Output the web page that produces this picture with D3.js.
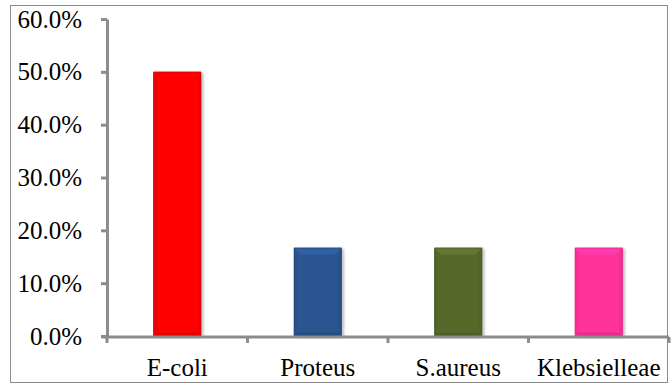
<!DOCTYPE html>
<html>
<head>
<meta charset="utf-8">
<script src="https://cdn.jsdelivr.net/npm/d3@7"></script>
</head>
<body style="margin:0;background:#fff">
<svg id="chart" width="671" height="386"></svg>
<script>
// Isolate shares by organism
const categories = ["E-coli", "Proteus", "S.aureus", "Klebsielleae"];
const values = [0.50, 0.167, 0.167, 0.167];
const barColors = ["#ff0000", "#2b5591", "#56692c", "#ff3399"];
const yTicks = [0, 0.1, 0.2, 0.3, 0.4, 0.5, 0.6];

const FONT = "Liberation Serif";
const FONT_SIZE = 25;
const AXIS_GRAY = "#8c8c8c";

const svg = d3.select("#chart");

// outer frame
svg.append("rect")
  .attr("x", 10.5).attr("y", 5.5)
  .attr("width", 657).attr("height", 377)
  .attr("fill", "#fff").attr("stroke", AXIS_GRAY).attr("stroke-width", 1);

const plot = { left: 107, right: 669, top: 19, bottom: 336 };

const x = d3.scaleBand()
  .domain(categories)
  .range([plot.left, plot.right])
  .paddingInner(0.66).paddingOuter(0.33);

const y = d3.scaleLinear().domain([0, 0.6]).range([plot.bottom, plot.top]);

const defs = svg.append("defs");
const shadow = defs.append("filter").attr("id", "shadow")
  .attr("x", "-20%").attr("y", "-10%").attr("width", "150%").attr("height", "130%");
shadow.append("feGaussianBlur").attr("in", "SourceAlpha").attr("stdDeviation", 1.5);
shadow.append("feOffset").attr("dx", 2).attr("dy", 1).attr("result", "b");
shadow.append("feComponentTransfer").append("feFuncA").attr("type", "linear").attr("slope", 0.3);
const merge = shadow.append("feMerge");
merge.append("feMergeNode");
merge.append("feMergeNode").attr("in", "SourceGraphic");

// bevelled bars
const bevel = 7;
svg.append("g").selectAll("g").data(categories).join("g").each(function (c, i) {
  const g = d3.select(this);
  const x0 = x(c), w = x.bandwidth();
  const y0 = y(values[i]), y1 = y(0), h = y1 - y0;
  const col = d3.color(barColors[i]);
  const b = Math.min(bevel, h / 2);
  g.append("rect").attr("x", x0).attr("y", y0).attr("width", w).attr("height", h)
    .attr("fill", col).attr("filter", "url(#shadow)");
  // top face (lighter)
  g.append("polygon")
    .attr("points", [[x0, y0], [x0 + w, y0], [x0 + w - b, y0 + b], [x0 + b, y0 + b]].join(" "))
    .attr("fill", col.brighter(0.35));
  // side faces (faint)
  g.append("polygon")
    .attr("points", [[x0, y0], [x0 + b * 0.5, y0 + b], [x0 + b * 0.5, y1 - b * 0.5], [x0, y1]].join(" "))
    .attr("fill", col.darker(0.12));
  g.append("polygon")
    .attr("points", [[x0 + w, y0], [x0 + w - b * 0.5, y0 + b], [x0 + w - b * 0.5, y1 - b * 0.5], [x0 + w, y1]].join(" "))
    .attr("fill", col.darker(0.15));
  // bottom face
  g.append("polygon")
    .attr("points", [[x0, y1], [x0 + b * 0.5, y1 - b * 0.5], [x0 + w - b * 0.5, y1 - b * 0.5], [x0 + w, y1]].join(" "))
    .attr("fill", col.darker(0.3));
  g.append("rect").attr("x", x0 + 0.5).attr("y", y0 + 0.5).attr("width", w - 1).attr("height", h - 1)
    .attr("fill", "none").attr("stroke", col.darker(0.6)).attr("stroke-opacity", 0.5).attr("stroke-width", 1);
});

// y axis
const yAxis = svg.append("g")
  .attr("transform", `translate(${plot.left},0)`)
  .call(d3.axisLeft(y).tickValues(yTicks).tickFormat(d3.format(".1%"))
    .tickSize(6).tickPadding(19).tickSizeOuter(0));
yAxis.attr("font-family", FONT).attr("font-size", FONT_SIZE);
yAxis.select(".domain").attr("stroke", AXIS_GRAY).attr("stroke-width", 3);
yAxis.selectAll(".tick line").attr("stroke", AXIS_GRAY).attr("stroke-width", 3);
yAxis.selectAll(".tick text").attr("fill", "#000")
  .attr("font-family", FONT).attr("font-size", FONT_SIZE);

// x axis: category boundaries carry the tick marks
const xAxis = svg.append("g").attr("transform", `translate(0,${plot.bottom + 1})`);
xAxis.append("line").attr("x1", plot.left - 6).attr("x2", plot.right)
  .attr("stroke", AXIS_GRAY).attr("stroke-width", 3);
const bounds = categories.map(c => x(c) - x.step() * x.paddingOuter()).concat([plot.right]);
xAxis.selectAll("line.tk").data(bounds).join("line").attr("class", "tk")
  .attr("x1", d => d).attr("x2", d => d).attr("y1", 0).attr("y2", 6)
  .attr("stroke", AXIS_GRAY).attr("stroke-width", 3);
xAxis.selectAll("text").data(categories).join("text")
  .attr("x", d => x(d) + x.bandwidth() / 2).attr("y", 39)
  .attr("text-anchor", "middle")
  .attr("font-family", FONT).attr("font-size", FONT_SIZE).attr("fill", "#000")
  .text(d => d);
</script>
</body>
</html>
